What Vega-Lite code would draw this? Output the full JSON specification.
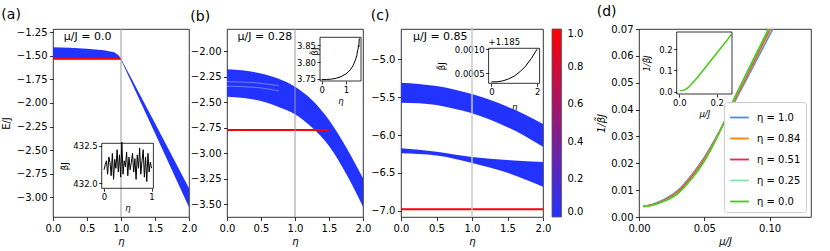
{
"$schema":"https://vega.github.io/schema/vega-lite/v6.json",
"padding":{"left":0,"top":4,"right":0,"bottom":0},
"bounds":"flush",
"spacing":38,
"resolve":{"scale":{"color":"independent"},"legend":{"color":"independent"}},
"config":{
 "font":"DejaVu Sans",
 "view":{"stroke":"#000","strokeWidth":0.8},
 "axis":{"grid":false,"domain":false,"tickColor":"#000","tickSize":3.5,"tickWidth":0.8,"labelColor":"#000","labelFontSize":10,"labelPadding":2.5,"titleColor":"#000","titleFontSize":10,"titleFontWeight":"normal","labelFlush":false,"labelOverlap":false,"tickCount":50},
 "title":{"fontSize":14,"fontWeight":"normal","anchor":"start","offset":5,"color":"#000"}
},
"datasets":{
 "bandA":[
  {"eta":0,"hi":-1.409,"lo":-1.537},{"eta":0.25,"hi":-1.414,"lo":-1.537},{"eta":0.5,"hi":-1.424,"lo":-1.537},
  {"eta":0.75,"hi":-1.44,"lo":-1.537},{"eta":0.9,"hi":-1.462,"lo":-1.537},{"eta":0.96,"hi":-1.49,"lo":-1.537},
  {"eta":1.0,"hi":-1.53,"lo":-1.54},{"eta":1.5,"hi":-2.215,"lo":-2.32},{"eta":2.0,"hi":-2.905,"lo":-3.107}],
 "redA":[{"eta":0,"E":-1.53},{"eta":1,"E":-1.53}],
 "insetA":[
  {"eta":0,"b":432.18},{"eta":0.025,"b":432.25},{"eta":0.05,"b":432.3},{"eta":0.075,"b":432.12},{"eta":0.1,"b":432.35},
  {"eta":0.125,"b":432.28},{"eta":0.15,"b":432.1},{"eta":0.175,"b":432.4},{"eta":0.2,"b":432.05},{"eta":0.225,"b":432.32},
  {"eta":0.25,"b":432.2},{"eta":0.275,"b":432.45},{"eta":0.3,"b":432.15},{"eta":0.325,"b":432.38},{"eta":0.35,"b":432.08},
  {"eta":0.375,"b":432.55},{"eta":0.4,"b":432.12},{"eta":0.425,"b":432.3},{"eta":0.45,"b":432.22},{"eta":0.475,"b":432.42},
  {"eta":0.5,"b":432.1},{"eta":0.525,"b":432.35},{"eta":0.55,"b":432.18},{"eta":0.575,"b":432.28},{"eta":0.6,"b":432.4},
  {"eta":0.625,"b":432.15},{"eta":0.65,"b":432.33},{"eta":0.675,"b":432.05},{"eta":0.7,"b":432.38},{"eta":0.725,"b":432.2},
  {"eta":0.75,"b":432.47},{"eta":0.775,"b":432.12},{"eta":0.8,"b":432.3},{"eta":0.825,"b":432.45},{"eta":0.85,"b":432.08},
  {"eta":0.875,"b":432.35},{"eta":0.9,"b":432.02},{"eta":0.925,"b":432.4},{"eta":0.95,"b":432.15},{"eta":0.975,"b":432.28},{"eta":1.0,"b":432.2}],
 "bandB":[
  {"eta":0,"hi":-2.179,"lo":-2.448},{"eta":0.25,"hi":-2.19,"lo":-2.46},{"eta":0.5,"hi":-2.22,"lo":-2.49},
  {"eta":0.75,"hi":-2.27,"lo":-2.545},{"eta":1.0,"hi":-2.35,"lo":-2.62},{"eta":1.25,"hi":-2.48,"lo":-2.75},
  {"eta":1.5,"hi":-2.676,"lo":-2.93},{"eta":1.75,"hi":-2.94,"lo":-3.2},{"eta":2.0,"hi":-3.248,"lo":-3.526}],
 "whiteB":[
  {"eta":0,"E":-2.3,"k":1},{"eta":0.4,"E":-2.31,"k":1},{"eta":0.76,"E":-2.34,"k":1},
  {"eta":0,"E":-2.345,"k":2},{"eta":0.4,"E":-2.355,"k":2},{"eta":0.76,"E":-2.39,"k":2}],
 "redB":[{"eta":0,"E":-2.775},{"eta":1.5,"E":-2.775}],
 "insetB":[
  {"eta":0,"b":3.748},{"eta":0.2,"b":3.7485},{"eta":0.4,"b":3.7495},{"eta":0.6,"b":3.752},{"eta":0.8,"b":3.757},
  {"eta":1.0,"b":3.765},{"eta":1.1,"b":3.771},{"eta":1.2,"b":3.779},{"eta":1.3,"b":3.79},{"eta":1.4,"b":3.808},
  {"eta":1.45,"b":3.82},{"eta":1.48,"b":3.835},{"eta":1.5,"b":3.838},{"eta":1.52,"b":3.85},{"eta":1.53,"b":3.845},{"eta":1.55,"b":3.87}],
 "bandC":[
  {"band":"u","eta":0,"hi":-5.31,"lo":-5.573,"c":0},{"band":"u","eta":0.25,"hi":-5.325,"lo":-5.582,"c":0},
  {"band":"u","eta":0.5,"hi":-5.354,"lo":-5.605,"c":0},{"band":"u","eta":0.75,"hi":-5.4,"lo":-5.654,"c":0},
  {"band":"u","eta":1.0,"hi":-5.46,"lo":-5.713,"c":0},{"band":"u","eta":1.25,"hi":-5.536,"lo":-5.795,"c":0},
  {"band":"u","eta":1.5,"hi":-5.627,"lo":-5.896,"c":0},{"band":"u","eta":1.75,"hi":-5.733,"lo":-6.016,"c":0},
  {"band":"u","eta":2.0,"hi":-5.855,"lo":-6.155,"c":0},
  {"band":"l","eta":0,"hi":-6.176,"lo":-6.242,"c":0},{"band":"l","eta":0.5,"hi":-6.22,"lo":-6.27,"c":0},
  {"band":"l","eta":1.0,"hi":-6.29,"lo":-6.37,"c":0},{"band":"l","eta":1.5,"hi":-6.33,"lo":-6.5,"c":0},
  {"band":"l","eta":2.0,"hi":-6.355,"lo":-6.683,"c":0}],
 "redC":[{"eta":0,"E":-6.98,"c":1},{"eta":2,"E":-6.98,"c":1}],
 "insetC":[
  {"eta":0,"b":1.18532},{"eta":0.25,"b":1.18532},{"eta":0.5,"b":1.18534},{"eta":0.75,"b":1.18538},{"eta":1.0,"b":1.18544},
  {"eta":1.25,"b":1.18553},{"eta":1.5,"b":1.18565},{"eta":1.75,"b":1.18581},{"eta":2.0,"b":1.186}],
 "dLines":[
  {"eta":"1.0","mu":0.0033,"inv":0.004},{"eta":"1.0","mu":0.01,"inv":0.0047},{"eta":"1.0","mu":0.02,"inv":0.0067},{"eta":"1.0","mu":0.03,"inv":0.01},{"eta":"1.0","mu":0.04,"inv":0.0155},{"eta":"1.0","mu":0.05,"inv":0.0222},{"eta":"1.0","mu":0.06,"inv":0.0305},{"eta":"1.0","mu":0.065,"inv":0.035},{"eta":"1.0","mu":0.07,"inv":0.0398},{"eta":"1.0","mu":0.08,"inv":0.049},{"eta":"1.0","mu":0.09,"inv":0.0583},{"eta":"1.0","mu":0.1,"inv":0.0676},{"eta":"1.0","mu":0.105,"inv":0.0722},
  {"eta":"0.84","mu":0.0033,"inv":0.004},{"eta":"0.84","mu":0.01,"inv":0.0046},{"eta":"0.84","mu":0.02,"inv":0.0065},{"eta":"0.84","mu":0.03,"inv":0.0097},{"eta":"0.84","mu":0.04,"inv":0.0151},{"eta":"0.84","mu":0.05,"inv":0.0218},{"eta":"0.84","mu":0.06,"inv":0.0303},{"eta":"0.84","mu":0.065,"inv":0.035},{"eta":"0.84","mu":0.07,"inv":0.0401},{"eta":"0.84","mu":0.08,"inv":0.0497},{"eta":"0.84","mu":0.09,"inv":0.0594},{"eta":"0.84","mu":0.1,"inv":0.069},{"eta":"0.84","mu":0.105,"inv":0.0738},
  {"eta":"0.51","mu":0.0033,"inv":0.0039},{"eta":"0.51","mu":0.01,"inv":0.0045},{"eta":"0.51","mu":0.02,"inv":0.0063},{"eta":"0.51","mu":0.03,"inv":0.0093},{"eta":"0.51","mu":0.04,"inv":0.0146},{"eta":"0.51","mu":0.05,"inv":0.0213},{"eta":"0.51","mu":0.06,"inv":0.0301},{"eta":"0.51","mu":0.065,"inv":0.035},{"eta":"0.51","mu":0.07,"inv":0.0405},{"eta":"0.51","mu":0.08,"inv":0.0504},{"eta":"0.51","mu":0.09,"inv":0.0602},{"eta":"0.51","mu":0.1,"inv":0.0699},{"eta":"0.51","mu":0.105,"inv":0.0747},
  {"eta":"0.25","mu":0.0033,"inv":0.0039},{"eta":"0.25","mu":0.01,"inv":0.0044},{"eta":"0.25","mu":0.02,"inv":0.0061},{"eta":"0.25","mu":0.03,"inv":0.009},{"eta":"0.25","mu":0.04,"inv":0.0142},{"eta":"0.25","mu":0.05,"inv":0.0209},{"eta":"0.25","mu":0.06,"inv":0.0299},{"eta":"0.25","mu":0.065,"inv":0.035},{"eta":"0.25","mu":0.07,"inv":0.0408},{"eta":"0.25","mu":0.08,"inv":0.0509},{"eta":"0.25","mu":0.09,"inv":0.0607},{"eta":"0.25","mu":0.1,"inv":0.0705},{"eta":"0.25","mu":0.105,"inv":0.0754},
  {"eta":"0.0","mu":0.0033,"inv":0.0039},{"eta":"0.0","mu":0.01,"inv":0.0044},{"eta":"0.0","mu":0.02,"inv":0.006},{"eta":"0.0","mu":0.03,"inv":0.0088},{"eta":"0.0","mu":0.04,"inv":0.014},{"eta":"0.0","mu":0.05,"inv":0.0207},{"eta":"0.0","mu":0.06,"inv":0.0298},{"eta":"0.0","mu":0.065,"inv":0.035},{"eta":"0.0","mu":0.07,"inv":0.041},{"eta":"0.0","mu":0.08,"inv":0.0512},{"eta":"0.0","mu":0.09,"inv":0.061},{"eta":"0.0","mu":0.1,"inv":0.0708},{"eta":"0.0","mu":0.105,"inv":0.0757}],
 "insetD":[
  {"mu":0.003,"inv":0.004},{"mu":0.02,"inv":0.006},{"mu":0.035,"inv":0.011},{"mu":0.05,"inv":0.021},{"mu":0.06,"inv":0.03},
  {"mu":0.08,"inv":0.05},{"mu":0.1,"inv":0.07},{"mu":0.15,"inv":0.125},{"mu":0.2,"inv":0.18},{"mu":0.25,"inv":0.235},{"mu":0.278,"inv":0.268}],
 "one":[{}]
},
"hconcat":[
 {
  "width":136,"height":188,
  "title":{"text":"(a)"},
  "resolve":{"scale":{"x":"independent","y":"independent"}},
  "layer":[
   {"layer":[
    {"data":{"name":"bandA"},"mark":{"type":"area","color":"#2233ff","opacity":1},
     "encoding":{
      "x":{"field":"eta","type":"quantitative","scale":{"domain":[0,2],"nice":false,"zero":false},"axis":{"title":"η","titleFontStyle":"italic","values":[0,0.5,1,1.5,2],"tickCount":50,"format":".1f","titlePadding":3}},
      "y":{"field":"hi","type":"quantitative","scale":{"domain":[-3.21,-1.215],"nice":false,"zero":false},"axis":{"title":"E/J","values":[-3,-2.75,-2.5,-2.25,-2,-1.75,-1.5,-1.25],"tickCount":50,"format":".2f","titlePadding":5}},
      "y2":{"field":"lo"}}},
    {"data":{"name":"redA"},"mark":{"type":"line","color":"#ff0000","strokeWidth":2},
     "encoding":{"x":{"field":"eta","type":"quantitative"},"y":{"field":"E","type":"quantitative"}}},
    {"data":{"name":"one"},"mark":{"type":"rule","color":"#999","strokeWidth":1},"encoding":{"x":{"datum":1}}},
    {"data":{"name":"one"},"mark":{"type":"text","fontSize":11,"baseline":"middle"},"encoding":{"x":{"datum":0.51},"y":{"datum":-1.3},"text":{"value":"μ/J = 0.0"}}}
   ]},
   {"layer":[
    {"data":{"name":"insetA"},"mark":{"type":"line","color":"#000","strokeWidth":1},
     "encoding":{
      "x":{"field":"eta","type":"quantitative","scale":{"domain":[-0.05,1.04],"range":[48.7,100.4],"nice":false,"zero":false},
           "axis":{"orient":"bottom","offset":-28.7,"values":[0,1],"tickCount":50,"format":"d","title":"η","titleFontStyle":"italic","labelFontSize":8.5,"titleFontSize":8.5,"tickSize":3,"labelPadding":1.5,"titlePadding":2}},
      "y":{"field":"b","type":"quantitative","scale":{"domain":[431.93,432.536],"range":[159.3,114.3],"nice":false,"zero":false},
           "axis":{"orient":"left","offset":-48.7,"values":[432.0,432.5],"tickCount":50,"format":".1f","title":"β̃J","labelFontSize":8.5,"titleFontSize":8.5,"tickSize":3,"labelPadding":1.5,"titlePadding":3}}}},
    {"data":{"name":"one"},"mark":{"type":"rect","fillOpacity":0,"stroke":"#000","strokeWidth":0.8},
     "encoding":{"x":{"datum":-0.05},"x2":{"datum":1.04},"y":{"datum":431.93},"y2":{"datum":432.536}}}
   ]}
  ]
 },
 {
  "width":136,"height":188,
  "title":{"text":"(b)"},
  "resolve":{"scale":{"x":"independent","y":"independent"}},
  "layer":[
   {"layer":[
    {"data":{"name":"bandB"},"mark":{"type":"area","color":"#2233ff","opacity":1,"interpolate":"monotone"},
     "encoding":{
      "x":{"field":"eta","type":"quantitative","scale":{"domain":[0,2],"nice":false,"zero":false},"axis":{"title":"η","titleFontStyle":"italic","values":[0,0.5,1,1.5,2],"tickCount":50,"format":".1f","titlePadding":3}},
      "y":{"field":"hi","type":"quantitative","scale":{"domain":[-3.627,-1.784],"nice":false,"zero":false},"axis":{"title":null,"values":[-3.5,-3.25,-3,-2.75,-2.5,-2.25,-2],"tickCount":50,"format":".2f"}},
      "y2":{"field":"lo"}}},
    {"data":{"name":"whiteB"},"mark":{"type":"line","color":"#ffffff","strokeWidth":0.6,"opacity":0.6,"interpolate":"monotone"},
     "encoding":{"x":{"field":"eta","type":"quantitative"},"y":{"field":"E","type":"quantitative"},"detail":{"field":"k"}}},
    {"data":{"name":"redB"},"mark":{"type":"line","color":"#ff0000","strokeWidth":2},
     "encoding":{"x":{"field":"eta","type":"quantitative"},"y":{"field":"E","type":"quantitative"}}},
    {"data":{"name":"one"},"mark":{"type":"rule","color":"#999","strokeWidth":1},"encoding":{"x":{"datum":1}}},
    {"data":{"name":"one"},"mark":{"type":"text","fontSize":11,"baseline":"middle"},"encoding":{"x":{"datum":0.556},"y":{"datum":-1.862},"text":{"value":"μ/J = 0.28"}}}
   ]},
   {"layer":[
    {"data":{"name":"insetB"},"mark":{"type":"line","color":"#000","strokeWidth":1},
     "encoding":{
      "x":{"field":"eta","type":"quantitative","scale":{"domain":[-0.066,1.62],"range":[93,134],"nice":false,"zero":false},
           "axis":{"orient":"bottom","offset":-136,"values":[0,1],"tickCount":50,"format":"d","title":"η","titleFontStyle":"italic","labelFontSize":8.5,"titleFontSize":8.5,"tickSize":3,"labelPadding":1.5,"titlePadding":2}},
      "y":{"field":"b","type":"quantitative","scale":{"domain":[3.744,3.873],"range":[52,8.3],"nice":false,"zero":false},
           "axis":{"orient":"left","offset":-93,"values":[3.75,3.8,3.85],"tickCount":50,"format":".2f","title":"β̃J","labelFontSize":8.5,"titleFontSize":8.5,"tickSize":3,"labelPadding":1.5,"titleX":-1,"titleY":22,"titleBaseline":"bottom"}}}},
    {"data":{"name":"one"},"mark":{"type":"rect","fillOpacity":0,"stroke":"#000","strokeWidth":0.8},
     "encoding":{"x":{"datum":-0.066},"x2":{"datum":1.62},"y":{"datum":3.744},"y2":{"datum":3.873}}}
   ]}
  ]
 },
 {
  "width":142,"height":188,
  "title":{"text":"(c)"},
  "resolve":{"scale":{"x":"independent","y":"independent"}},
  "layer":[
   {"layer":[
    {"data":{"name":"bandC"},"mark":{"type":"area","opacity":1,"interpolate":"monotone"},
     "encoding":{
      "x":{"field":"eta","type":"quantitative","scale":{"domain":[0,2],"nice":false,"zero":false},"axis":{"title":"η","titleFontStyle":"italic","values":[0,0.5,1,1.5,2],"tickCount":50,"format":".1f","titlePadding":3}},
      "y":{"field":"hi","type":"quantitative","scale":{"domain":[-7.083,-4.6],"nice":false,"zero":false},"axis":{"title":null,"values":[-7,-6.5,-6,-5.5,-5],"tickCount":50,"format":".1f"}},
      "y2":{"field":"lo"},
      "detail":{"field":"band"},
      "color":{"field":"c","type":"quantitative","scale":{"domain":[0,1],"range":["#2233ff","#ff0000"],"interpolate":"rgb"},
        "legend":{"type":"gradient","orient":"right","offset":9,"direction":"vertical","gradientLength":188,"gradientThickness":9.5,"values":[0,0.2,0.4,0.6,0.8,1],"format":".1f","title":null,"labelFontSize":10,"labelOffset":6,"labelColor":"#000","gradientStrokeColor":"#555","gradientStrokeWidth":0.8,"padding":0}}}},
    {"data":{"name":"redC"},"mark":{"type":"line","strokeWidth":2,"color":"#ff0000"},
     "encoding":{"x":{"field":"eta","type":"quantitative"},"y":{"field":"E","type":"quantitative"}}},
    {"data":{"name":"one"},"mark":{"type":"rule","color":"#c8c8c8","strokeWidth":1.5},"encoding":{"x":{"datum":1}}},
    {"data":{"name":"one"},"mark":{"type":"text","fontSize":11,"baseline":"middle"},"encoding":{"x":{"datum":0.553},"y":{"datum":-4.706},"text":{"value":"μ/J = 0.85"}}}
   ]},
   {"layer":[
    {"data":{"name":"insetC"},"mark":{"type":"line","color":"#000","strokeWidth":1},
     "encoding":{
      "x":{"field":"eta","type":"quantitative","scale":{"domain":[-0.12,2.11],"range":[87.6,138.6],"nice":false,"zero":false},
           "axis":{"orient":"bottom","offset":-133.7,"values":[0,2],"tickCount":50,"format":"d","title":"η","titleFontStyle":"italic","labelFontSize":8.5,"titleFontSize":8.5,"tickSize":3,"labelPadding":1.5,"titlePadding":6}},
      "y":{"field":"b","type":"quantitative","scale":{"domain":[1.18529,1.18602],"range":[54.3,19.3],"nice":false,"zero":false},
           "axis":{"orient":"left","offset":-87.6,"values":[1.1855,1.186],"tickCount":50,"labelExpr":"format(datum.value - 1.185, '.4f')","title":"β̃J","labelFontSize":8.5,"titleFontSize":8.5,"tickSize":3,"labelPadding":1.5,"titlePadding":8}}}},
    {"data":{"name":"one"},"mark":{"type":"rect","fillOpacity":0,"stroke":"#000","strokeWidth":0.8},
     "encoding":{"x":{"datum":-0.12},"x2":{"datum":2.11},"y":{"datum":1.18529},"y2":{"datum":1.18602}}},
    {"data":{"name":"one"},"mark":{"type":"text","fontSize":8.5,"align":"left","baseline":"bottom","dy":-1},
     "encoding":{"x":{"datum":-0.12},"y":{"datum":1.18602},"text":{"value":"+1.185"}}}
   ]}
  ]
 },
 {
  "width":20,"height":188,
  "view":{"stroke":null},
  "data":{"name":"one"},
  "mark":{"type":"point","opacity":0},
  "encoding":{}
 },
 {
  "width":172,"height":188,
  "title":{"text":"(d)"},
  "resolve":{"scale":{"x":"independent","y":"independent"}},
  "layer":[
   {"layer":[
    {"data":{"name":"dLines"},"mark":{"type":"line","strokeWidth":1.5,"clip":true,"interpolate":"monotone"},
     "encoding":{
      "x":{"field":"mu","type":"quantitative","scale":{"domain":[0,0.1318],"nice":false,"zero":false},"axis":{"title":"μ/J","titleFontStyle":"italic","values":[0,0.05,0.1],"tickCount":50,"format":".2f","titlePadding":3}},
      "y":{"field":"inv","type":"quantitative","scale":{"domain":[0,0.07],"nice":false,"zero":false},"axis":{"title":"1/β̃J","titleFontStyle":"italic","values":[0,0.01,0.02,0.03,0.04,0.05,0.06,0.07],"tickCount":50,"format":".2f","titlePadding":4}},
      "color":{"field":"eta","type":"nominal","sort":null,"scale":{"domain":["1.0","0.84","0.51","0.25","0.0"],"range":["#4a90e2","#ff7f0e","#e8244f","#7fe3b4","#44cc11"]},
        "legend":{"orient":"bottom-right","offset":5,"title":null,"symbolType":"stroke","symbolStrokeWidth":1.8,"symbolSize":350,"labelExpr":"'η = ' + datum.label","labelFontSize":10,"labelColor":"#000","strokeColor":"#cccccc","fillColor":"#ffffff","padding":5,"cornerRadius":3,"rowPadding":5,"labelOffset":7}}}}
   ]},
   {"layer":[
    {"data":{"name":"insetD"},"mark":{"type":"line","color":"#44cc11","strokeWidth":1.5},
     "encoding":{
      "x":{"field":"mu","type":"quantitative","scale":{"domain":[-0.014,0.282],"range":[37.7,93],"nice":false,"zero":false},
           "axis":{"orient":"bottom","offset":-123,"values":[0,0.2],"tickCount":50,"format":".1f","title":"μ/J","titleFontStyle":"italic","labelFontSize":8.5,"titleFontSize":8.5,"tickSize":3,"labelPadding":1.5,"titlePadding":2}},
      "y":{"field":"inv","type":"quantitative","scale":{"domain":[-0.011,0.28],"range":[65,3],"nice":false,"zero":false},
           "axis":{"orient":"left","offset":-37.7,"values":[0,0.1,0.2],"tickCount":50,"format":".1f","title":"1/β̃J","titleFontStyle":"italic","labelFontSize":8.5,"titleFontSize":8.5,"tickSize":3,"labelPadding":1.5,"titlePadding":7}}}},
    {"data":{"name":"one"},"mark":{"type":"rect","fillOpacity":0,"stroke":"#000","strokeWidth":0.8},
     "encoding":{"x":{"datum":-0.014},"x2":{"datum":0.282},"y":{"datum":-0.011},"y2":{"datum":0.28}}}
   ]}
  ]
 }
]
}
